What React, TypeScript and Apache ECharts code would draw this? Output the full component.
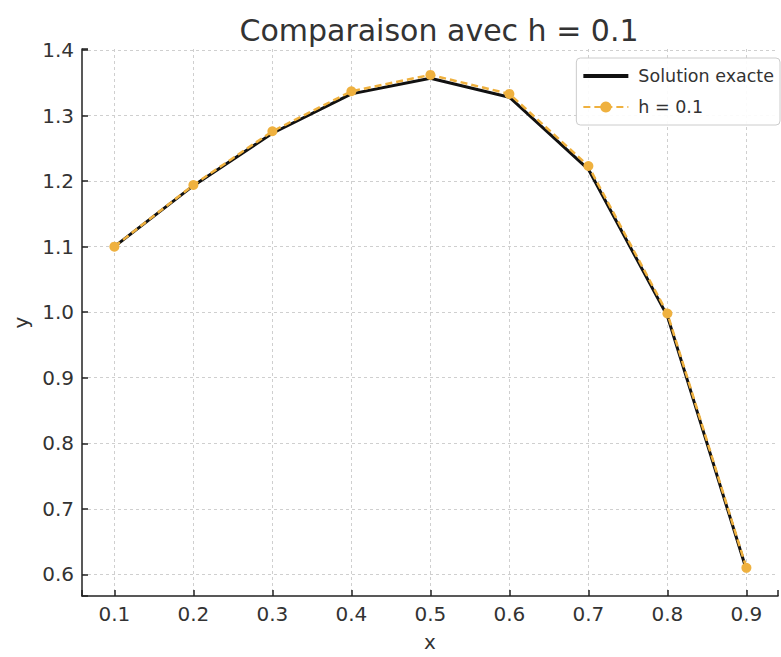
import React, { useEffect, useRef } from "react";
import * as echarts from "echarts";

const xValues = [0.1, 0.2, 0.3, 0.4, 0.5, 0.6, 0.7, 0.8, 0.9];
const exactValues = [1.1, 1.193, 1.273, 1.333, 1.357, 1.328, 1.218, 0.994, 0.607];
const approxValues = [1.1, 1.194, 1.276, 1.337, 1.362, 1.333, 1.223, 0.998, 0.61];
const seriesNames = ["Solution exacte", "h = 0.1"];
const titleText = "Comparaison avec h = 0.1";

const FONT = "DejaVu Sans";

function tickFmt(v: number): string {
  const k = v * 10;
  if (Math.abs(k - Math.round(k)) < 1e-6) return v.toFixed(1);
  return "";
}

export default function App() {
  const ref = useRef<HTMLDivElement>(null);
  useEffect(() => {
    if (!ref.current) return;
    const chart = echarts.init(ref.current, undefined, { renderer: "svg" });
    chart.setOption({
      animation: false,
      backgroundColor: "#ffffff",
      textStyle: { fontFamily: FONT },
      title: {
        text: titleText,
        left: 434,
        top: 10,
        textAlign: "center",
        textStyle: { fontFamily: FONT, fontSize: 30, fontWeight: "normal", color: "#333" },
      },
      legend: {
        orient: "vertical",
        right: 1,
        top: 58,
        itemWidth: 45,
        itemHeight: 14,
        itemGap: 13,
        padding: [9, 6, 9, 5],
        backgroundColor: "rgba(255,255,255,0.9)",
        borderColor: "#cccccc",
        borderWidth: 1,
        borderRadius: 4,
        textStyle: { fontFamily: FONT, fontSize: 17.5, color: "#333", padding: [0, 0, 0, 5] },
        data: [
          {
            name: seriesNames[0],
            itemStyle: { color: "rgba(0,0,0,0)", borderColor: "rgba(0,0,0,0)", opacity: 0 },
            lineStyle: { width: 4, color: "#111111" },
          },
          { name: seriesNames[1] },
        ],
      },
      grid: { left: 82, top: 49, width: 707, height: 553, containLabel: false },
      xAxis: {
        type: "value",
        min: 0.059,
        max: 0.94,
        splitNumber: 9,
        name: "x",
        nameLocation: "middle",
        nameGap: 36,
        nameTextStyle: { fontFamily: FONT, fontSize: 20, color: "#333" },
        axisLine: { show: true, onZero: false, lineStyle: { color: "#222", width: 1.5 } },
        axisTick: { show: true, inside: true, length: 6, lineStyle: { color: "#222", width: 1.5 } },
        axisLabel: { formatter: tickFmt, fontFamily: FONT, fontSize: 20, color: "#333", margin: 8 },
        splitLine: { show: true, showMinLine: false, showMaxLine: false, lineStyle: { color: "#cfcfcf", type: [3, 3], width: 1 } },
      },
      yAxis: {
        type: "value",
        min: 0.567,
        max: 1.4015,
        splitNumber: 8,
        name: "y",
        nameLocation: "middle",
        nameGap: 50,
        nameRotate: 90,
        nameTextStyle: { fontFamily: FONT, fontSize: 20, color: "#333" },
        axisLine: { show: true, onZero: false, lineStyle: { color: "#222", width: 1.5 } },
        axisTick: { show: true, inside: true, length: 6, lineStyle: { color: "#222", width: 1.5 } },
        axisLabel: { formatter: tickFmt, fontFamily: FONT, fontSize: 20, color: "#333", margin: 8 },
        splitLine: { show: true, showMinLine: false, showMaxLine: false, lineStyle: { color: "#cfcfcf", type: [3, 3], width: 1 } },
      },
      series: [
        {
          name: seriesNames[0],
          type: "line",
          data: xValues.map((x, i) => [x, exactValues[i]]),
          symbol: "none",
          lineStyle: { color: "#111111", width: 3 },
          itemStyle: { color: "#111111" },
          z: 2,
        },
        {
          name: seriesNames[1],
          type: "line",
          data: xValues.map((x, i) => [x, approxValues[i]]),
          symbol: "circle",
          symbolSize: 10,
          lineStyle: { color: "#efb13f", width: 2.5, type: [7, 4] },
          itemStyle: { color: "#efb13f" },
          z: 3,
        },
      ],
    });
    return () => chart.dispose();
  }, []);
  return (
    <div
      ref={ref}
      style={{ position: "absolute", left: 0, top: 0, width: 781, height: 657, overflow: "hidden" }}
    />
  );
}
